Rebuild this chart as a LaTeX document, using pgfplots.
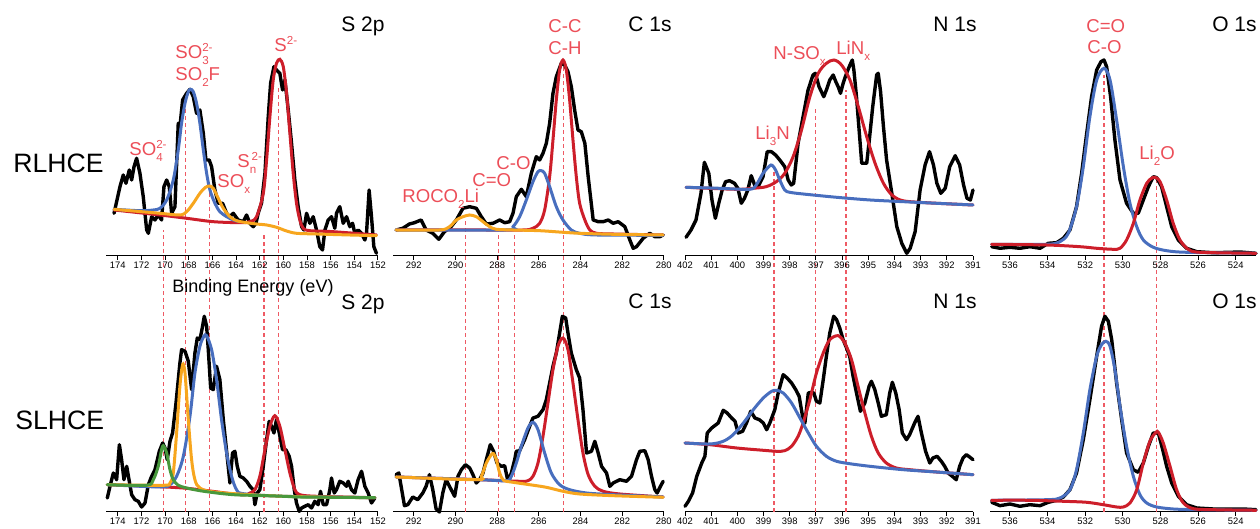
\documentclass[border=0pt]{standalone}
\usepackage{pgfplots}
\pgfplotsset{compat=1.18}
\usepackage{fontspec}
\setmainfont{Liberation Sans}
\definecolor{fitred}{RGB}{205,30,42}
\definecolor{fitblue}{RGB}{72,110,190}
\definecolor{fitorange}{RGB}{247,166,30}
\definecolor{fitgreen}{RGB}{72,152,60}
\definecolor{lblred}{RGB}{236,78,88}
\definecolor{dashred}{RGB}{238,90,100}
\newcommand\sbs[1]{\raisebox{-3pt}{\fontsize{5.8}{6}\selectfont #1}}
\newcommand\sps[1]{\raisebox{3.6pt}{\fontsize{5.8}{6}\selectfont #1}}
\pgfplotsset{
  xps/.style={scale only axis, anchor=south west,
    axis x line=bottom, axis y line=none, axis line style={-, line width=0.5pt},
    x dir=reverse, ymin=0, clip=false,
    tick align=outside, major tick length=2pt,
    xtick style={line width=0.5pt, black},
    ticklabel style={font=\fontsize{4.7}{5}\selectfont, inner sep=1pt},
    /pgf/number format/assume math mode=true,
    /pgf/number format/1000 sep={}},
  toprow/.style={height=123pt, ymax=246},
  botrow/.style={height=116pt, ymax=232},
  sp/.style={at={(53pt,#1)}, width=136pt, xmin=152, xmax=175, xtick={152,154,...,174}},
  cs/.style={at={(196.5pt,#1)}, width=135.4pt, xmin=280, xmax=293, xtick={280,282,...,292}},
  ns/.style={at={(342.5pt,#1)}, width=144pt, xmin=391, xmax=402, xtick={391,...,402}},
  os/.style={at={(495pt,#1)}, width=133pt, xmin=522.92, xmax=537.06, xtick={524,526,...,536}},
  blk/.style={black, line width=1.7pt, line join=round, line cap=round},
  fit/.style={#1, line width=1.5pt, smooth, tension=0.5, line cap=round},
  dsh/.style={dashred, line width=0.55pt, dash pattern=on 2pt off 1.5pt},
}
\begin{document}
\begin{tikzpicture}
%================ BOTTOM ROW (SLHCE) =================
\begin{axis}[xps, botrow, sp=8.5pt]
\addplot[dsh] coordinates {(170.16,0)(170.16,282)};
\addplot[dsh] coordinates {(168.24,0)(168.24,415)};
\addplot[dsh] coordinates {(166.27,0)(166.27,319)};
\addplot[dsh] coordinates {(161.64,0)(161.64,279)};
\addplot[dsh] coordinates {(160.4,0)(160.4,424)};
\addplot[blk] coordinates {(174.89,14)(174.66,25.7)(174.38,39)(174.10,32.3)(173.87,67.3)(173.68,52.3)(173.48,32.3)(173.25,45.7)(173.03,30.7)(172.83,17.3)(172.55,12.3)(172.27,10.7)(171.99,5)(171.70,9)(171.42,27.3)(171.14,35.7)(170.86,42.3)(170.49,60.7)(170.21,69)(170.01,64)(169.82,52.3)(169.59,70.7)(169.37,79)(169.08,109)(168.75,149)(168.61,162.3)(168.32,160.7)(168.04,150.7)(167.76,122.3)(167.48,159)(167.28,174)(167.06,172.3)(166.86,184)(166.69,195.7)(166.49,185.7)(166.35,162.3)(166.15,124)(165.93,122.3)(165.65,145.7)(165.37,132.3)(165.08,92.3)(164.80,60.7)(164.52,29)(164.30,59)(164.10,60.7)(163.90,45.7)(163.68,35.7)(163.39,34)(163.11,30.7)(162.83,25.7)(162.55,22.3)(162.41,7.3)(162.21,19)(161.99,22.3)(161.70,45.7)(161.42,72.3)(161.20,90.7)(161.00,85.7)(160.80,79)(160.58,92.3)(160.35,79)(160.07,62.3)(159.79,62.3)(159.51,55.7)(159.31,45.7)(159.08,22.3)(158.89,9)(158.66,0.7)(158.46,4)(158.18,5.7)(157.90,7.3)(157.62,4)(157.34,10.7)(157.06,7.3)(156.86,20.7)(156.63,7.3)(156.35,7.3)(156.07,22.3)(155.93,34)(155.70,19)(155.51,22.3)(155.23,30.7)(154.94,29)(154.66,25.7)(154.52,30.7)(154.24,22.3)(153.96,19)(153.68,32.3)(153.39,40.7)(153.11,25.7)(152.83,19)(152.55,9)(152.27,14)};
\addplot[fit=fitred] coordinates {(174.89,27.3)(168.5,24)(163.68,17.3)(162.83,19)(162.41,22.3)(161.99,35.7)(161.56,62.3)(161.14,85.7)(160.72,96.3)(160.30,85.7)(159.87,62.3)(159.45,39)(159.03,22.3)(158.61,17.3)(157.20,15.7)(152.27,14.3)};
\addplot[fit=fitblue] coordinates {(174.89,27.3)(170.44,25)(169.59,27.3)(169.03,35.7)(168.46,55.7)(167.90,95.7)(167.48,139)(167.06,165.7)(166.72,175.7)(166.49,176.3)(166.07,162.3)(165.65,132.3)(165.23,92.3)(164.80,59)(164.38,35.7)(163.96,22.3)(163.39,18.3)(160,15.7)(152.27,14.3)};
\addplot[fit=fitorange] coordinates {(174.89,27.3)(170.15,26.7)(169.59,29)(169.31,39)(169.03,79)(168.75,125.7)(168.52,147.3)(168.32,139)(168.04,92.3)(167.76,52.3)(167.48,32.3)(167.06,24)(165.65,19.7)(160,15.7)(152.27,14.3)};
\addplot[fit=fitgreen] coordinates {(174.89,27.3)(171.56,26.7)(171.0,32.3)(170.58,45.7)(170.30,62.3)(170.15,66.3)(169.87,59)(169.59,42.3)(169.31,32.3)(168.89,26.7)(168.18,24)(167.06,21.3)(165.65,19)(164.24,17.3)(162.83,16.7)(161.42,16.3)(160.01,15.7)(158.61,15)(155.79,14.7)(152.27,14.3)};
\end{axis}

\begin{axis}[xps, botrow, cs=8.5pt]
\addplot[dsh] coordinates {(289.5,0)(289.5,292)};
\addplot[dsh] coordinates {(287.92,0)(287.92,279)};
\addplot[dsh] coordinates {(287.15,0)(287.15,279)};
\addplot[dsh] coordinates {(284.8,0)(284.8,449)};
\addplot[blk] coordinates {(292.85,37.3)(292.72,39)(292.61,25.7)(292.45,6.3)(292.29,7.3)(292.05,15)(291.81,12.3)(291.57,19)(291.41,25.7)(291.25,37.3)(291.09,22.3)(290.93,3)(290.77,0)(290.61,19)(290.45,32.3)(290.29,25.7)(290.04,15.7)(289.88,35.7)(289.72,42.3)(289.52,47.3)(289.32,44)(289.16,37.3)(289.00,29)(288.84,32.3)(288.68,39)(288.52,52.3)(288.33,67.3)(288.17,60.7)(288.01,49)(287.80,45.7)(287.64,46.3)(287.48,30.7)(287.32,39)(287.16,52.3)(287.08,60.7)(286.92,61.3)(286.68,72.3)(286.44,85.7)(286.28,94)(286.04,95.7)(285.80,102.3)(285.64,112.3)(285.48,129)(285.32,145.7)(285.16,159)(285.00,179)(284.87,195.7)(284.71,194)(284.60,179)(284.44,159)(284.20,142.3)(284.04,134)(283.88,102.3)(283.71,59)(283.47,60.7)(283.31,70.7)(283.15,59)(282.99,45.7)(282.75,39)(282.59,25.7)(282.43,29)(282.11,32.3)(281.79,30.7)(281.55,35.7)(281.31,52.3)(281.15,60.7)(280.91,61.3)(280.75,52.3)(280.59,35.7)(280.43,22.3)(280.32,19)(280.16,25.7)(280.03,30.7)};
\addplot[fit=fitred] coordinates {(292.85,35)(288.84,32.3)(286.92,30.7)(286.52,31.3)(286.28,35.7)(286.04,49)(285.80,75.7)(285.56,109)(285.32,142.3)(285.08,165.7)(284.84,174)(284.60,162.3)(284.36,129)(284.12,92.3)(283.88,59)(283.63,37.3)(283.31,25.7)(282.91,20.7)(282.11,18)(280.03,15)};
\addplot[fit=fitblue] coordinates {(292.85,35)(288.84,32.3)(287.56,31.3)(287.32,35.7)(287.08,49)(286.84,65.7)(286.52,84)(286.28,89.7)(286.04,82.3)(285.72,59)(285.40,39)(285.0,27.3)(284.52,22.3)(283.71,19)(282.43,17.3)(280.03,15)};
\addplot[fit=fitorange] coordinates {(292.85,35)(289.0,32.3)(288.76,35.7)(288.52,49)(288.28,57.3)(288.17,58.3)(288.04,52.3)(287.88,39)(287.69,31.7)(287.24,29.7)(286.44,27.3)(285.64,24.7)(284.84,20.7)(284.04,18)(282.43,16.3)(280.03,14.7)};
\end{axis}

\begin{axis}[xps, botrow, ns=8.5pt]
\addplot[dsh] coordinates {(398.6,0)(398.6,342)};
\addplot[dsh] coordinates {(397.03,0)(397.03,405)};
\addplot[dsh] coordinates {(395.85,0)(395.85,422)};
\addplot[blk] coordinates {(402.00,5.7)(401.87,10.7)(401.71,19)(401.55,35.7)(401.36,49)(401.24,55.7)(401.15,79)(400.98,84)(400.73,89)(400.54,101.7)(400.39,99)(400.22,94)(400.09,90.7)(399.97,79)(399.80,80.7)(399.65,89)(399.49,100.7)(399.33,94)(399.16,92.3)(399.01,89)(398.88,82.3)(398.76,89)(398.57,102.3)(398.44,119)(398.25,137.3)(398.10,134)(397.93,129)(397.77,122.3)(397.64,115.7)(397.51,95.7)(397.42,89)(397.29,119)(397.17,119.7)(397.08,119)(396.98,110.7)(396.85,109)(396.72,132.3)(396.60,155.7)(396.47,179)(396.32,195.7)(396.21,192.3)(396.09,184)(395.96,172.3)(395.83,164)(395.71,155.7)(395.58,135.7)(395.45,119)(395.30,100.7)(395.13,109)(394.97,125.7)(394.88,130.7)(394.75,122.3)(394.62,109)(394.50,95.7)(394.31,97.3)(394.18,119)(394.08,129.7)(393.95,119)(393.82,102.3)(393.70,79)(393.54,72.3)(393.42,77.3)(393.23,89)(393.10,95.7)(392.97,79)(392.81,60.7)(392.65,49)(392.53,54)(392.37,55.7)(392.21,50.7)(392.08,45.7)(391.95,39)(391.79,35.7)(391.64,32.3)(391.51,45.7)(391.38,54)(391.25,57.3)(391.13,55)(391.00,52.3)};
\addplot[fit=fitred] coordinates {(402.0,69)(401.05,67.3)(400.03,64)(399.01,61.7)(398.50,60.7)(398.19,61.3)(397.93,65.7)(397.68,75.7)(397.49,89)(397.23,112.3)(396.98,139)(396.72,159)(396.47,172.3)(396.15,176.3)(395.90,169)(395.64,152.3)(395.39,125.7)(395.13,99)(394.88,75.7)(394.62,59)(394.31,49)(393.93,44)(393.42,42.3)(392.40,40)(391.0,37.3)};
\addplot[fit=fitblue] coordinates {(402.0,69)(401.05,68)(400.54,70.7)(400.16,77.3)(399.77,89)(399.39,102.3)(399.01,114)(398.69,120.7)(398.50,121.7)(398.25,119)(397.93,109)(397.61,94)(397.29,79)(396.98,65.7)(396.60,55.7)(396.21,50.7)(395.71,48.3)(394.94,45.7)(393.67,42.3)(392.40,40)(391.0,37.3)};
\end{axis}

\begin{axis}[xps, botrow, os=8.5pt]
\addplot[dsh] coordinates {(531.0,0)(531.0,437)};
\addplot[dsh] coordinates {(528.2,0)(528.2,332)};
\addplot[blk] coordinates {(536.97,9.7)(536.53,6.3)(536.00,8)(535.47,5.7)(534.94,7.3)(534.40,6.3)(533.96,9.7)(533.52,11.7)(533.16,15)(532.81,22.3)(532.46,39)(532.10,72.3)(531.75,112.3)(531.39,155.7)(531.13,185.7)(530.95,195.7)(530.77,190.7)(530.59,172.3)(530.33,129)(530.06,92.3)(529.80,59)(529.44,42.3)(529.18,39.7)(528.91,49)(528.64,65.7)(528.38,79)(528.11,79)(527.88,62.3)(527.67,45.7)(527.40,29)(527.05,15.7)(526.61,7.3)(526.07,4)(525.19,3)(524.30,3)(523.59,3)(522.92,2.3)};
\addplot[fit=fitblue] coordinates {(536.97,11.7)(534.05,12.3)(533.34,14)(532.81,22.3)(532.46,42.3)(532.10,79)(531.75,122.3)(531.39,155.7)(531.13,167.3)(530.90,170.7)(530.68,165.7)(530.42,142.3)(530.15,105.7)(529.80,65.7)(529.44,35.7)(529.09,17.3)(528.73,9)(528.20,5)(527.32,3)(526.07,2.3)(522.92,1.7)};
\addplot[fit=fitred] coordinates {(536.97,11.7)(534.94,11.7)(533.16,10.7)(531.92,9.7)(531.04,7.3)(530.33,5)(529.97,5)(529.62,9)(529.26,22.3)(528.91,49)(528.56,70.7)(528.24,79.7)(528.11,79.7)(527.85,69)(527.49,45.7)(527.14,22.3)(526.78,9)(526.25,3.3)(525.19,2.3)(522.92,1.7)};
\end{axis}

%================ TOP ROW (RLHCE) =================
\begin{axis}[xps, toprow, sp=136.5pt]
\addplot[blk] coordinates {(174.32,42.7)(173.82,69.3)(173.54,81)(173.31,72.7)(173.03,86)(172.83,76)(172.63,89.3)(172.41,97.7)(172.13,82.7)(171.85,59.3)(171.56,26)(171.42,22.7)(171.14,39.3)(170.86,36)(170.58,41)(170.30,36)(170.10,69.3)(169.87,76)(169.65,69.3)(169.45,42.7)(169.17,49.3)(168.89,132.7)(168.75,129.3)(168.52,156)(168.18,162.7)(167.90,166.7)(167.62,159.3)(167.34,142.7)(167.06,146)(166.77,122.7)(166.55,96)(166.27,96)(166.07,89.3)(165.79,66)(165.51,52.7)(165.14,52.7)(164.80,42.7)(164.52,39.3)(164.24,42.7)(163.82,36)(163.39,34.3)(163.11,41)(162.83,32.7)(162.55,29.3)(162.32,32.7)(162.13,42.7)(161.85,52.7)(161.56,82.7)(161.28,139.3)(161.08,172.7)(160.80,189.3)(160.58,186)(160.30,182.7)(160.07,166)(159.87,176)(159.59,146)(159.31,112.7)(159.03,76)(158.75,49.3)(158.46,29.3)(158.27,26)(158.04,42.7)(157.76,32.7)(157.48,39.3)(157.20,26)(156.92,9.3)(156.69,6)(156.49,26)(156.21,36)(155.93,39.3)(155.65,27.7)(155.51,42.7)(155.23,49.3)(154.94,32.7)(154.66,39.3)(154.38,29.3)(154.15,32.7)(153.96,22.7)(153.68,26)(153.39,22.7)(153.11,16)(152.97,22.7)(152.75,66)(152.55,39.3)(152.35,9.3)(152.13,2.7)};
\addplot[fit=fitred] coordinates {(174.32,46)(170.44,41)(168.18,37.7)(165.93,34.3)(163.68,33.3)(162.83,34.3)(162.27,39.3)(161.70,62.7)(161.42,96)(161.14,139.3)(160.86,176)(160.58,192.7)(160.30,196.7)(160.01,189.3)(159.73,162.7)(159.45,122.7)(159.17,82.7)(158.89,52.7)(158.61,36)(158.32,27.7)(157.76,25.3)(155.79,24.3)(152.13,21)};
\addplot[fit=fitblue] coordinates {(174.32,46.7)(172.13,45.3)(171.0,46)(170.44,47.7)(169.87,56)(169.31,76)(168.89,106)(168.61,132.7)(168.32,152.7)(168.04,164.3)(167.85,166.7)(167.62,164.3)(167.34,152.7)(167.06,132.7)(166.77,106)(166.49,82.7)(166.21,66)(165.79,52.7)(165.37,44.3)(164.80,39.3)(164.24,36)(163.68,34.3)};
\addplot[fit=fitorange] coordinates {(174.32,46.7)(170.44,42.7)(168.75,41)(168.18,44.3)(167.62,52.7)(167.06,62.7)(166.63,68.3)(166.27,70)(165.93,67.7)(165.51,57.7)(165.08,47.7)(164.52,39.3)(163.96,35.3)(163.11,33.3)(162.27,32)(161.42,31)(160.58,28.7)(159.73,25)(158.89,22.7)(157.20,22)(154.38,21)(152.13,20.3)};
\end{axis}

\begin{axis}[xps, toprow, cs=136.5pt]
\addplot[blk] coordinates {(292.85,26)(292.53,27.7)(292.21,32)(291.97,33.3)(291.65,36)(291.41,26)(291.09,22.7)(290.80,16.7)(290.53,24.3)(290.21,29.3)(289.96,36)(289.64,47.7)(289.32,49.3)(289.00,47.7)(288.76,39.3)(288.52,32)(288.20,32.7)(287.88,36)(287.64,33.3)(287.40,34.3)(287.24,42.7)(287.08,59.3)(286.84,66.7)(286.60,59.3)(286.36,82.7)(286.12,99.3)(285.96,96)(285.80,102.7)(285.64,112.7)(285.48,132.7)(285.32,162.7)(285.16,179.3)(284.92,192.7)(284.76,191)(284.60,184.3)(284.44,169.3)(284.28,146)(284.12,126)(283.96,124.3)(283.79,112.7)(283.63,79.3)(283.39,36)(283.15,34.3)(282.91,34.3)(282.67,36)(282.43,32.7)(282.19,34.3)(281.87,29.3)(281.63,16)(281.47,7.7)(281.31,9.3)(280.99,17.7)(280.67,22.7)(280.43,19.3)(280.19,19.3)(280.03,21)};
\addplot[fit=fitred] coordinates {(292.85,26)(288.84,26)(286.76,26)(286.28,27.7)(285.96,32.7)(285.72,46)(285.48,79.3)(285.32,116)(285.16,156)(285.0,186)(284.84,196)(284.68,186)(284.52,156)(284.36,116)(284.20,79.3)(284.04,52.7)(283.79,36)(283.55,26)(283.23,22.7)(282.43,22)(280.03,21)};
\addplot[fit=fitblue] coordinates {(292.85,26)(287.56,26)(287.24,29.3)(286.92,39.3)(286.60,56)(286.28,74.3)(286.04,84.3)(285.88,85.3)(285.72,82.7)(285.48,69.3)(285.16,49.3)(284.84,36)(284.44,26)(284.04,22.7)(283.23,21)(280.03,20.7)};
\addplot[fit=fitorange] coordinates {(292.85,26)(290.77,26)(290.29,29.3)(289.96,36)(289.64,39.3)(289.32,41)(289.0,39.3)(288.68,34.3)(288.36,29.3)(288.04,26.7)(287.24,26)(285.96,25.3)(284.84,23.7)(284.04,22.7)(282.43,21.7)(280.03,21)};
\end{axis}

\begin{axis}[xps, toprow, ns=136.5pt]
\addplot[blk] coordinates {(401.96,18.7)(401.77,26)(401.58,36)(401.39,62.7)(401.26,93.7)(401.09,82.7)(400.97,56)(400.84,37.7)(400.71,52.7)(400.58,66)(400.45,74.3)(400.30,75.3)(400.11,72.7)(399.98,67.7)(399.85,52.7)(399.73,57.7)(399.60,66)(399.47,80.3)(399.34,71)(399.21,69.3)(399.02,79.3)(398.86,104.3)(398.70,104.3)(398.54,101)(398.38,96)(398.19,89.3)(398.06,76)(397.94,71)(397.85,72.7)(397.68,112.7)(397.49,139.3)(397.30,166)(397.11,181)(397.02,182.7)(396.88,169.3)(396.70,159.3)(396.60,166)(396.47,176)(396.34,181)(396.24,174.3)(396.15,169.3)(396.06,162.7)(395.96,172.7)(395.83,182.7)(395.70,191)(395.61,196)(395.55,186)(395.45,159.3)(395.34,122.7)(395.25,92.7)(395.06,92.7)(394.96,116)(394.83,149.3)(394.68,181)(394.62,182.7)(394.53,164.3)(394.42,129.3)(394.30,96)(394.10,62.7)(393.91,29.3)(393.72,12.7)(393.53,2.7)(393.40,7.7)(393.21,24.3)(393.02,66)(392.83,91)(392.66,104.3)(392.51,91)(392.38,72.7)(392.23,62.7)(392.06,67.7)(391.89,89.3)(391.68,100.3)(391.51,91)(391.36,71)(391.23,57.7)(391.10,56)(391.00,66)};
\addplot[fit=fitred] coordinates {(401.96,68.7)(400.05,66.7)(399.41,67.7)(398.90,69.3)(398.51,74.3)(398.19,82.7)(397.87,99.3)(397.55,126)(397.23,159.3)(396.91,182.7)(396.60,192.7)(396.31,196)(396.02,191)(395.70,176)(395.38,149.3)(395.06,119.3)(394.74,92.7)(394.42,72.7)(394.10,61)(393.78,56)(393.40,54.3)(392.38,52.7)(391.0,51)};
\addplot[fit=fitblue] coordinates {(401.96,68.7)(400.68,67.7)(399.53,66.7)(399.28,71)(399.02,82.7)(398.77,90)(398.67,90.7)(398.54,86)(398.38,76)(398.19,66)(398.0,63.7)(397.49,62)(396.21,58.7)(394.93,56)(393.66,54.3)(392.38,52.7)(391.0,51)};
\end{axis}

\begin{axis}[xps, toprow, os=136.5pt]
\addplot[blk] coordinates {(536.97,9.3)(536.53,7.7)(536.00,8.7)(535.47,7.7)(534.94,9.3)(534.40,7.7)(533.96,12.7)(533.52,13.3)(533.16,17.7)(532.81,26)(532.46,49.3)(532.19,82.7)(531.92,122.7)(531.66,159.3)(531.39,186)(531.16,194.3)(531.00,196)(530.86,189.3)(530.65,159.3)(530.42,116)(530.15,76)(529.80,52.7)(529.44,42.7)(529.18,42.7)(528.91,56)(528.64,69.3)(528.38,79.3)(528.20,78.3)(527.94,69.3)(527.67,49.3)(527.40,29.3)(527.05,16)(526.61,7.7)(526.07,4.3)(525.19,3.3)(524.30,3.7)(523.77,4)(522.92,2.7)};
\addplot[fit=fitblue] coordinates {(536.97,11.7)(534.05,11.7)(533.34,14.3)(532.90,22.7)(532.46,49.3)(532.10,89.3)(531.75,139.3)(531.39,176)(531.0,187.7)(530.68,176)(530.33,136)(529.97,89.3)(529.62,52.7)(529.26,29.3)(528.91,16)(528.38,8.7)(527.67,5.3)(526.61,3.7)(522.92,2.7)};
\addplot[fit=fitred] coordinates {(536.97,11.7)(534.05,11)(532.28,9.3)(531.39,7.7)(530.51,6.7)(530.15,7.7)(529.80,16)(529.44,32.7)(529.09,56)(528.73,72.7)(528.47,77.7)(528.29,78.7)(528.02,74.3)(527.67,56)(527.32,32.7)(526.96,16)(526.52,6.7)(525.90,3.7)(522.92,2.7)};
\end{axis}

%================ TEXT =================
\begin{scope}[x=0.5pt, y=-0.5pt, yshift=264.5pt]
\tikzset{ttl/.style={anchor=base east, inner sep=0pt, font=\fontsize{10.5}{12}\selectfont},
         lbl/.style={anchor=base west, inner sep=0pt, text=lblred, font=\fontsize{9.3}{11}\selectfont}}
\node[ttl] at (385,32) {S 2p};
\node[ttl] at (672,32) {C 1s};
\node[ttl] at (977,32) {N 1s};
\node[ttl] at (1257,32) {O 1s};
\node[ttl] at (385,310) {S 2p};
\node[ttl] at (672,309) {C 1s};
\node[ttl] at (977,309) {N 1s};
\node[ttl] at (1257,309) {O 1s};
\node[anchor=base west, inner sep=0pt, font=\fontsize{13.3}{15}\selectfont] at (13,173) {RLHCE};
\node[anchor=base west, inner sep=0pt, font=\fontsize{13.3}{15}\selectfont] at (15,430) {SLHCE};
\node[anchor=base, inner sep=0pt, font=\fontsize{9}{11}\selectfont] at (253,293) {Binding Energy (eV)};
% S 2p labels
\node[lbl] at (175,59) {SO\rlap{\sps{2-}}\sbs{3}};
\node[lbl] at (175,81) {SO\sbs{2}F};
\node[lbl] at (274,52) {S\sps{2-}};
\node[lbl] at (129,156) {SO\rlap{\sps{2-}}\sbs{4}};
\node[lbl] at (237,168) {S\rlap{\sps{\,2-}}\sbs{n}};
\node[lbl] at (217,188) {SO\sbs{x}};
% C 1s labels
\node[lbl] at (548,33) {C-C};
\node[lbl] at (548,55) {C-H};
\node[lbl] at (496,170) {C-O};
\node[lbl] at (472,187) {C=O};
\node[lbl] at (402,203) {ROCO\sbs{2}Li};
% N 1s labels
\node[lbl] at (773,60) {N-SO\sbs{x}};
\node[lbl] at (836,55) {LiN\sbs{x}};
\node[lbl] at (755,140) {Li\sbs{3}N};
% O 1s labels
\node[lbl] at (1086,33) {C=O};
\node[lbl] at (1087,54) {C-O};
\node[lbl] at (1139,160) {Li\sbs{2}O};
\end{scope}
\pgfresetboundingbox
\path[use as bounding box] (0,0) rectangle (630pt,264.5pt);
\end{tikzpicture}
\end{document}
